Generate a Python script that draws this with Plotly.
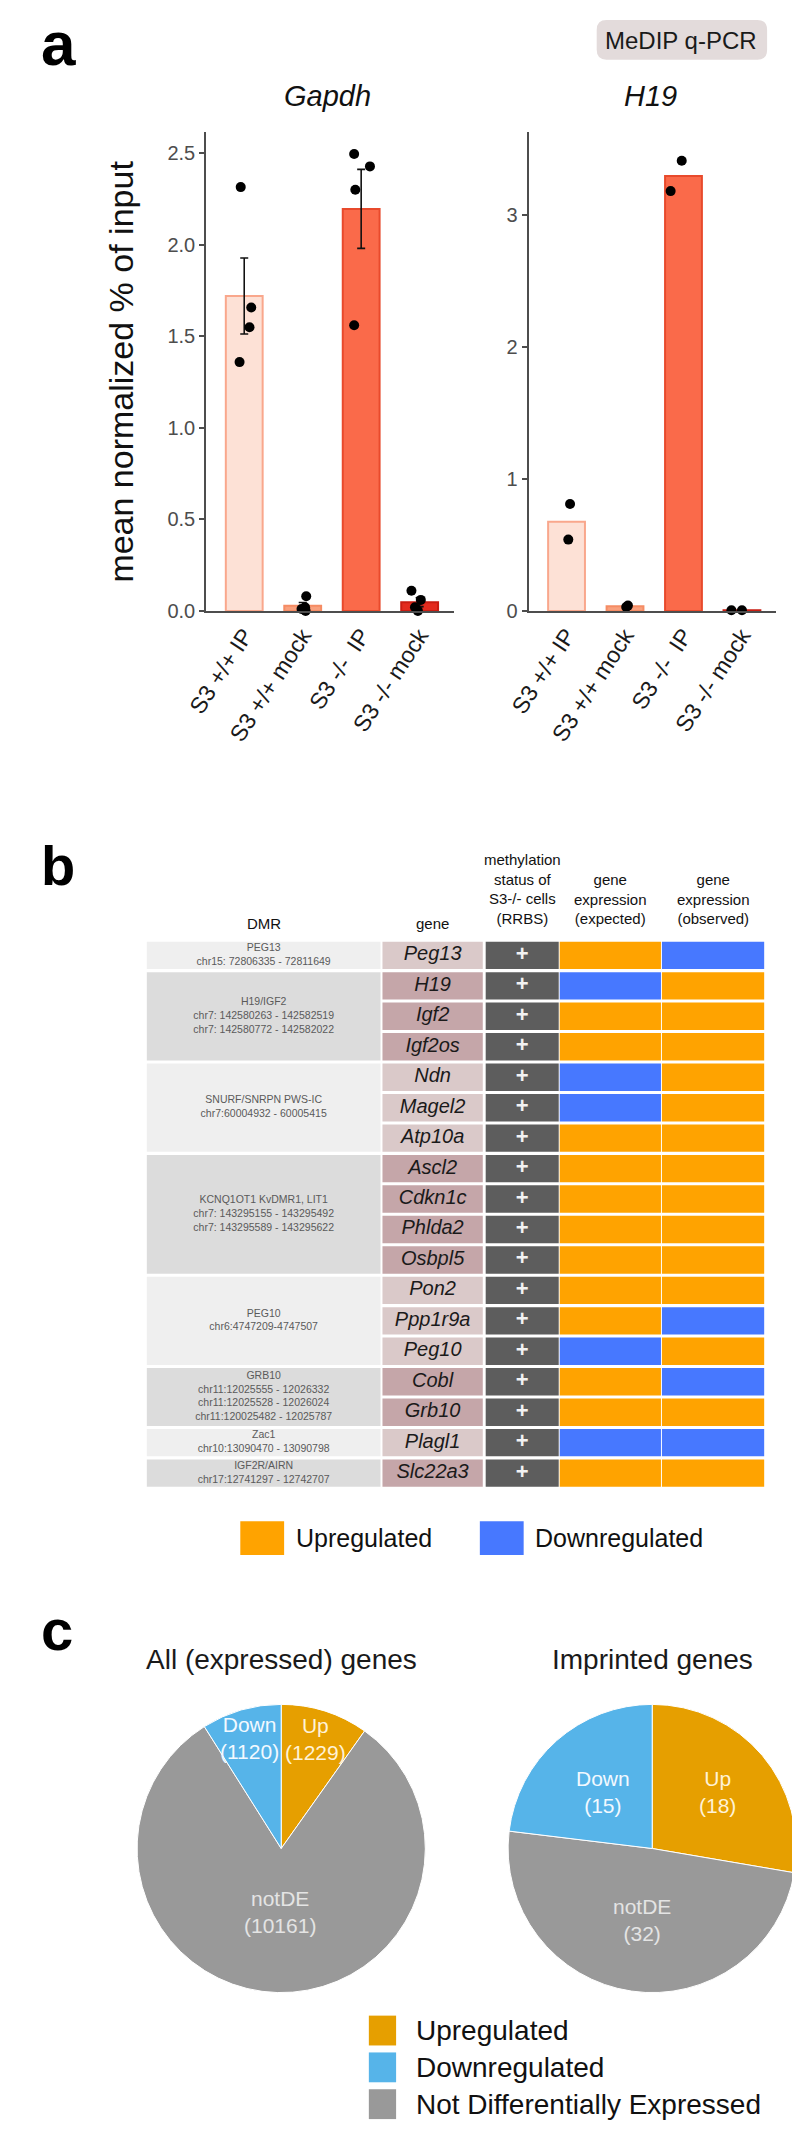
import numpy as np
import plotly.graph_objects as go

W, H = 800, 2140
FONT = "Liberation Sans, Arial, Helvetica, sans-serif"


def px(x):
    return x / W


def py(y):
    return 1 - y / H


# ---------------- panel a data ----------------
conditions = ["S3 +/+ IP", "S3 +/+ mock", "S3 -/-\u00a0 IP", "S3 -/- mock"]
gapdh_values = [
    [2.315, 1.657, 1.549, 1.359],
    [0.08, 0.02, 0.01, 0.0],
    [2.496, 2.428, 2.30, 1.56],
    [0.11, 0.06, 0.02, 0.0],
]
gapdh_jitter = [
    [-0.06, 0.12, 0.09, -0.08],
    [0.06, 0.04, -0.02, 0.05],
    [-0.12, 0.15, -0.10, -0.12],
    [-0.14, 0.02, -0.08, -0.03],
]
h19_values = [[0.81, 0.54], [0.04, 0.03], [3.41, 3.18], [0.005, 0.005]]
h19_jitter = [[0.06, 0.03], [0.05, 0.02], [-0.03, -0.22], [-0.18, 0.0]]
gapdh_yticks = [0.0, 0.5, 1.0, 1.5, 2.0, 2.5]
h19_yticks = [0, 1, 2, 3]
bar_fill = ["#fde1d6", "#f9a07d", "#fa6a4a", "#e32b1e"]
bar_line = ["#f9a78c", "#f58c64", "#e84a2c", "#c91d12"]

# ---------------- panel b data ----------------
dmr_labels = [
    "PEG13<br>chr15: 72806335 - 72811649",
    "H19/IGF2<br>chr7: 142580263 - 142582519<br>chr7: 142580772 - 142582022",
    "SNURF/SNRPN PWS-IC<br>chr7:60004932 - 60005415",
    "KCNQ1OT1 KvDMR1, LIT1<br>chr7: 143295155 - 143295492<br>chr7: 143295589 - 143295622",
    "PEG10<br>chr6:4747209-4747507",
    "GRB10<br>chr11:12025555 - 12026332<br>chr11:12025528 - 12026024<br>chr11:120025482 - 12025787",
    "Zac1<br>chr10:13090470 - 13090798",
    "IGF2R/AIRN<br>chr17:12741297 - 12742707",
]
dmr_sizes = [1, 3, 3, 4, 3, 2, 1, 1]
genes = ["Peg13", "H19", "Igf2", "Igf2os", "Ndn", "Magel2", "Atp10a", "Ascl2", "Cdkn1c",
         "Phlda2", "Osbpl5", "Pon2", "Ppp1r9a", "Peg10", "Cobl", "Grb10", "Plagl1", "Slc22a3"]
methylation = ["+"] * len(genes)
expected = ["Up", "Down", "Up", "Up", "Down", "Down", "Up", "Up", "Up", "Up", "Up",
            "Up", "Up", "Down", "Up", "Up", "Down", "Up"]
observed = ["Down", "Up", "Up", "Up", "Up", "Up", "Up", "Up", "Up", "Up", "Up",
            "Up", "Down", "Up", "Down", "Up", "Down", "Up"]
status_colors = {"Up": "#ffa300", "Down": "#4778ff"}
table_legend = ["Upregulated", "Downregulated"]

# ---------------- panel c data ----------------
pie_titles = ["All (expressed) genes", "Imprinted genes"]
pie_labels = ["Up", "notDE", "Down"]
all_counts = [1229, 10161, 1120]
imprinted_counts = [18, 32, 15]
pie_colors = ["#e69f00", "#999999", "#56b4e9"]
pie_text_colors = ["#fff2d6", "#e4e4e4", "#f2f9ff"]
legend_c_labels = ["Upregulated", "Downregulated", "Not Differentially Expressed"]
legend_c_colors = ["#e69f00", "#56b4e9", "#999999"]

fig = go.Figure()
annotations = []
shapes = []


def ann(x, y, text, size, color="#111", xanchor="center", yanchor="middle", **kw):
    d = dict(x=px(x), y=py(y), xref="paper", yref="paper", text=text, showarrow=False,
             xanchor=xanchor, yanchor=yanchor, font=dict(size=size, color=color, family=FONT))
    d.update(kw)
    annotations.append(d)


# ================= panel a =================
cat_x = list(range(len(conditions)))


def add_bar_panel(values, jitter, xa, ya, with_err):
    means = [float(np.mean(v)) for v in values]
    sems = [float(np.std(v, ddof=1) / np.sqrt(len(v))) for v in values]
    fig.add_trace(go.Bar(
        x=cat_x, y=means, width=0.63,
        marker=dict(color=bar_fill, line=dict(color=bar_line, width=2)),
        error_y=dict(type="data", array=sems, visible=with_err, color="#111", thickness=1.6, width=4),
        xaxis=xa, yaxis=ya, showlegend=False, hoverinfo="skip"))
    xs, ys = [], []
    for i, (v, j) in enumerate(zip(values, jitter)):
        for val, jj in zip(v, j):
            xs.append(i + jj)
            ys.append(val)
    fig.add_trace(go.Scatter(x=xs, y=ys, mode="markers", marker=dict(color="black", size=10),
                             cliponaxis=False, xaxis=xa, yaxis=ya, showlegend=False, hoverinfo="skip"))


add_bar_panel(gapdh_values, gapdh_jitter, "x", "y", True)
add_bar_panel(h19_values, h19_jitter, "x2", "y2", False)

xcommon = dict(range=[-0.65, 3.58], tickvals=cat_x, ticktext=conditions, tickangle=-57,
               showline=True, linecolor="#4d4d4d", linewidth=2, ticks="", showgrid=False,
               zeroline=False, tickfont=dict(size=23, color="#1a1a1a", family=FONT))
ycommon = dict(domain=[py(606), py(125)], ticks="outside", ticklen=5, tickwidth=1.5,
               tickcolor="#4d4d4d", showline=True, linecolor="#4d4d4d", linewidth=2,
               showgrid=False, zeroline=False, tickfont=dict(size=20, color="#4d4d4d", family=FONT))

fig.update_layout(
    xaxis=dict(domain=[px(182), px(436)], anchor="y", **xcommon),
    yaxis=dict(range=[0, 2.614], tickvals=gapdh_yticks, ticktext=[f"{t:.1f}" for t in gapdh_yticks],
               anchor="x", **ycommon),
    xaxis2=dict(domain=[px(513), px(767)], anchor="y2", **xcommon),
    yaxis2=dict(range=[0, 3.625], tickvals=h19_yticks, ticktext=[str(t) for t in h19_yticks],
                anchor="x2", **ycommon),
)

ann(10, 36, "<b>a</b>", 62, "#000", xanchor="left")
ann(307, 88, "<i>Gapdh</i>", 29, "#111")
ann(638, 88, "<i>H19</i>", 29, "#111")
ann(95, 366, "mean normalized % of input", 34, "#111", textangle=-90)


def rounded_rect_path(x0, y0, x1, y1, r):
    X, Y = px, py
    return (f"M {X(x0 + r)} {Y(y0)} L {X(x1 - r)} {Y(y0)} Q {X(x1)} {Y(y0)} {X(x1)} {Y(y0 + r)} "
            f"L {X(x1)} {Y(y1 - r)} Q {X(x1)} {Y(y1)} {X(x1 - r)} {Y(y1)} L {X(x0 + r)} {Y(y1)} "
            f"Q {X(x0)} {Y(y1)} {X(x0)} {Y(y1 - r)} L {X(x0)} {Y(y0 + r)} Q {X(x0)} {Y(y0)} {X(x0 + r)} {Y(y0)} Z")


shapes.append(dict(type="path", xref="paper", yref="paper", path=rounded_rect_path(583, 12, 758, 52, 10),
                   fillcolor="#e3dbdb", line=dict(width=0), layer="below"))
ann(670, 33, "MeDIP q-PCR", 24, "#1a1a1a")

# ================= panel b (table) =================
col_dmr = (121, 361)
col_gene = (363, 466)
col_meth = (469, 544)
col_exp = (545, 649)
col_obs = (650, 755)
n = len(genes)
row_y = np.arange(n) + 0.5

group_idx = []
for g, s in enumerate(dmr_sizes):
    group_idx += [g] * s
gene_cell_colors = ["#dac9c9" if g % 2 == 0 else "#c5a6a9" for g in group_idx]
dmr_cell_colors = ["#efefef" if g % 2 == 0 else "#dcdcdc" for g in range(len(dmr_sizes))]
starts = np.concatenate([[0], np.cumsum(dmr_sizes)[:-1]])
dmr_centers = starts + np.array(dmr_sizes) / 2.0


def hbar(y, widths, left, right, colors):
    return go.Bar(orientation="h", y=y, x=[right - left] * len(y), base=left, width=widths,
                  marker=dict(color=colors, line=dict(width=0)), xaxis="x3", yaxis="y3",
                  showlegend=False, hoverinfo="skip")


fig.add_trace(hbar(dmr_centers, [s - 0.1 for s in dmr_sizes], *col_dmr, dmr_cell_colors))
fig.add_trace(hbar(row_y, [0.9] * n, *col_gene, gene_cell_colors))
fig.add_trace(hbar(row_y, [0.9] * n, *col_meth, ["#5d5d5d"] * n))
fig.add_trace(hbar(row_y, [0.9] * n, *col_exp, [status_colors[s] for s in expected]))
fig.add_trace(hbar(row_y, [0.9] * n, *col_obs, [status_colors[s] for s in observed]))

fig.add_trace(go.Scatter(x=[sum(col_dmr) / 2] * len(dmr_labels), y=dmr_centers, text=dmr_labels,
                         mode="text", textfont=dict(size=10.5, color="#5a5a5a", family=FONT),
                         xaxis="x3", yaxis="y3", showlegend=False, hoverinfo="skip"))
fig.add_trace(go.Scatter(x=[sum(col_gene) / 2] * n, y=row_y, text=[f"<i>{g}</i>" for g in genes],
                         mode="text", textfont=dict(size=20, color="#1a1a1a", family=FONT),
                         xaxis="x3", yaxis="y3", showlegend=False, hoverinfo="skip"))
fig.add_trace(go.Scatter(x=[sum(col_meth) / 2] * n, y=row_y, text=[f"<b>{m}</b>" for m in methylation],
                         mode="text", textfont=dict(size=22, color="#f2f2f2", family=FONT),
                         xaxis="x3", yaxis="y3", showlegend=False, hoverinfo="skip"))

fig.update_layout(
    xaxis3=dict(domain=[0, 1], range=[0, W], visible=False, anchor="y3"),
    yaxis3=dict(domain=[py(1488), py(937)], range=[n, 0], visible=False, anchor="x3"),
)

ann(10, 862, "<b>b</b>", 56, "#000", xanchor="left")
ann(sum(col_dmr) / 2, 920, "DMR", 15, "#111")
ann(sum(col_gene) / 2, 920, "gene", 15, "#111")
ann(sum(col_meth) / 2, 886, "methylation<br>status of<br>S3-/- cells<br>(RRBS)", 15, "#111")
ann(sum(col_exp) / 2, 896, "gene<br>expression<br>(expected)", 15, "#111")
ann(sum(col_obs) / 2, 896, "gene<br>expression<br>(observed)", 15, "#111")

for (x0, x1), lab, key in zip([(217, 262), (463, 508)], table_legend, ["Up", "Down"]):
    shapes.append(dict(type="rect", xref="paper", yref="paper", x0=px(x0), x1=px(x1),
                       y0=py(1555), y1=py(1521), fillcolor=status_colors[key], line=dict(width=0)))
    ann(x1 + 10, 1538, lab, 25, "#111", xanchor="left")

# ================= panel c (pies) =================
ann(10, 1630, "<b>c</b>", 58, "#000", xanchor="left")
pie_centers = [(259, 1850), (640, 1850)]
R = 148
label_radius = [[0.78, 0.43, 0.78], [0.59, 0.49, 0.51]]

for (cx, cy), counts, title, rads in zip(pie_centers, [all_counts, imprinted_counts], pie_titles, label_radius):
    fig.add_trace(go.Pie(values=counts, labels=pie_labels, sort=False, direction="clockwise", rotation=0,
                         marker=dict(colors=pie_colors, line=dict(color="#ffffff", width=1)),
                         textinfo="none", showlegend=False, hoverinfo="skip",
                         domain=dict(x=[px(cx - R), px(cx + R)], y=[py(cy + R), py(cy - R)])))
    ann(cx, 1660, title, 28, "#1a1a1a")
    total = float(sum(counts))
    cum = 0.0
    for c, lab, r, tc in zip(counts, pie_labels, rads, pie_text_colors):
        frac = c / total
        theta = 2 * np.pi * (cum + frac / 2)
        cum += frac
        lx = cx + r * R * np.sin(theta)
        ly = cy - r * R * np.cos(theta)
        ann(lx, ly, f"{lab}<br>({c})", 21, tc)

for lab, col, yc in zip(legend_c_labels, legend_c_colors, [2033, 2070, 2107]):
    shapes.append(dict(type="rect", xref="paper", yref="paper", x0=px(349), x1=px(377),
                       y0=py(yc + 15), y1=py(yc - 15), fillcolor=col, line=dict(width=0)))
    ann(395, yc, lab, 28, "#111", xanchor="left")

fig.update_layout(
    width=W, height=H, autosize=False,
    margin=dict(l=0, r=0, t=0, b=0),
    paper_bgcolor="white", plot_bgcolor="white",
    barmode="overlay",
    font=dict(family=FONT, color="#111"),
    annotations=annotations, shapes=shapes,
)

fig.write_html("out.html")
